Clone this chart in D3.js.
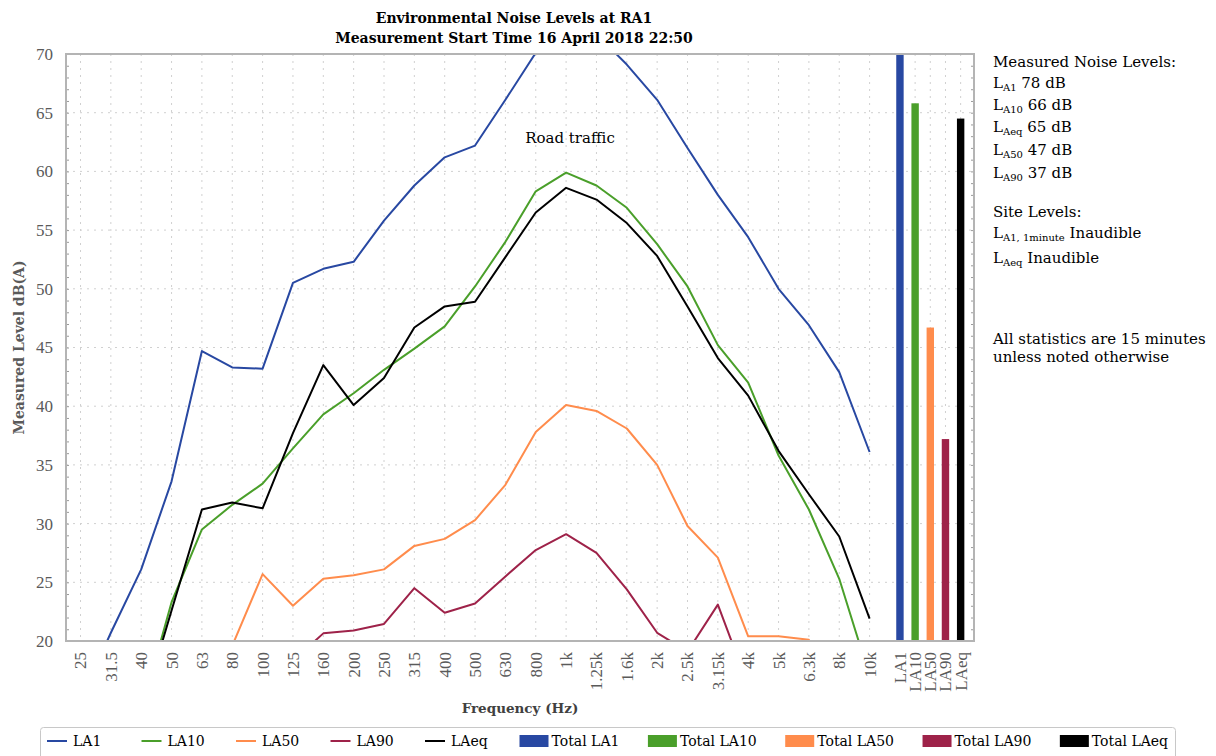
<!DOCTYPE html>
<html>
<head>
<meta charset="utf-8">
<script src="https://cdn.jsdelivr.net/npm/d3@7"></script>
<style>
  body { margin: 0; background: #fff; }
  svg { font-family: "DejaVu Serif", serif; }
  .num { font-family: "Liberation Serif", serif; }
</style>
</head>
<body>
<svg id="chart"></svg>
<script>
const WIDTH = 1216
const HEIGHT = 756

// third-octave bands
const freqLabels = ["25", "31.5", "40", "50", "63", "80", "100", "125", "160", "200", "250", "315", "400",
  "500", "630", "800", "1k", "1.25k", "1.6k", "2k", "2.5k", "3.15k", "4k", "5k", "6.3k", "8k", "10k"]

const LA1 = [15, 20.7, 26.1, 33.6, 44.7, 43.3, 43.2, 50.5, 51.7, 52.3, 55.8, 58.8, 61.2,
  62.2, 66.1, 70.1, 72.3, 71.7, 69.1, 66.1, 62.0, 58.0, 54.4, 50.0, 46.9, 42.9, 36.1]
const LA10 = [8, 11, 14.0, 23.3, 29.5, 31.6, 33.4, 36.4, 39.3, 41.1, 43.1, 44.9, 46.8,
  50.2, 54.0, 58.3, 59.9, 58.8, 56.9, 53.8, 50.2, 45.2, 42.0, 35.8, 31.2, 25.3, 17.0]
const LA50 = [8, 10, 12, 14, 17, 19.6, 25.7, 23.0, 25.3, 25.6, 26.1, 28.1, 28.7,
  30.3, 33.3, 37.8, 40.1, 39.6, 38.1, 35.0, 29.8, 27.1, 20.4, 20.4, 20.1, 14, 9]
const LA90 = [5, 7, 9, 11, 13, 15, 17, 18.3, 20.65, 20.9, 21.45, 24.5, 22.4,
  23.2, 25.5, 27.75, 29.1, 27.5, 24.4, 20.7, 19.1, 23.1, 16.2, 15, 14, 12, 10]
const LAeq = [8, 10, 13.9, 22.6, 31.2, 31.8, 31.3, 37.7, 43.5, 40.1, 42.4, 46.7, 48.5,
  48.9, 52.7, 56.5, 58.6, 57.6, 55.6, 52.8, 48.5, 44.1, 40.9, 36.2, 32.5, 28.9, 21.9]

const seriesNames = ["LA1", "LA10", "LA50", "LA90", "LAeq"]
const seriesColors = ["#2848a2", "#4a9f2a", "#ff8c4c", "#9e2249", "#000000"]

const totalLabels = ["LA1", "LA10", "LA50", "LA90", "LAeq"]
const totalValues = [78, 65.8, 46.7, 37.2, 64.5]

const yTicks = [20, 25, 30, 35, 40, 45, 50, 55, 60, 65, 70]

const margin = { top: 54, left: 66, right: 974, bottom: 641 }

let svg = d3.select("#chart")
  .attr("width", WIDTH)
  .attr("height", HEIGHT)

// bands sit on whole steps, the totals on half steps after them
let pos = i => i < freqLabels.length ? i : freqLabels.length + (i - freqLabels.length) * 0.5
let allLabels = freqLabels.concat(totalLabels)

let x = d3.scaleLinear()
  .domain([-0.478, 29.44])
  .range([margin.left, margin.right])

let y = d3.scaleLinear()
  .domain([20, 70])
  .range([margin.bottom, margin.top])

svg.append("defs").append("clipPath")
  .attr("id", "plot-clip")
  .append("rect")
  .attr("x", margin.left)
  .attr("y", margin.top)
  .attr("width", margin.right - margin.left)
  .attr("height", margin.bottom - margin.top)

// grid
let grid = svg.append("g")
grid.selectAll(".hgrid")
  .data(yTicks.slice(1, -1))
  .enter()
  .append("line")
  .attr("x1", margin.left)
  .attr("x2", margin.right)
  .attr("y1", d => y(d))
  .attr("y2", d => y(d))
  .attr("stroke", "#d0d0d0")
  .attr("stroke-dasharray", "2,5")

grid.selectAll(".vgrid")
  .data(allLabels.map((d, i) => pos(i)))
  .enter()
  .append("line")
  .attr("x1", d => x(d))
  .attr("x2", d => x(d))
  .attr("y1", margin.top)
  .attr("y2", margin.bottom)
  .attr("stroke", "#d0d0d0")
  .attr("stroke-dasharray", "2,5")

// minor ticks inside the frame, both sides
let minor = d3.range(21, 70)
svg.append("g")
  .attr("transform", `translate(${margin.left},0)`)
  .call(d3.axisRight(y).tickValues(minor).tickSize(3).tickFormat(""))
  .call(g => g.select(".domain").remove())
  .selectAll("line").attr("stroke", "#9a9a9a")
svg.append("g")
  .attr("transform", `translate(${margin.right},0)`)
  .call(d3.axisLeft(y).tickValues(minor).tickSize(3).tickFormat(""))
  .call(g => g.select(".domain").remove())
  .selectAll("line").attr("stroke", "#9a9a9a")

// y labels
let yAxis = svg.append("g")
  .attr("transform", `translate(${margin.left},0)`)
  .call(d3.axisLeft(y).tickValues(yTicks).tickSize(0).tickPadding(13))
yAxis.attr("font-family", null).attr("font-size", null)
yAxis.select(".domain").remove()
yAxis.selectAll("text")
  .attr("class", "num")
  .style("font-size", "17px")
  .attr("fill", "#5a5a5a")

// x labels, rotated
svg.append("g")
  .selectAll("text")
  .data(allLabels)
  .enter()
  .append("text")
  .attr("class", "num")
  .attr("transform", (d, i) => `translate(${x(pos(i))}, 652) rotate(-90)`)
  .attr("text-anchor", "end")
  .attr("dy", "0.35em")
  .style("font-size", "17px")
  .attr("fill", "#5a5a5a")
  .text(d => d)

// total bars
svg.append("g")
  .attr("clip-path", "url(#plot-clip)")
  .selectAll("rect")
  .data(totalValues)
  .enter()
  .append("rect")
  .attr("x", (d, i) => x(pos(freqLabels.length + i)) - 3.7)
  .attr("width", 7.4)
  .attr("y", d => y(d))
  .attr("height", d => y(20) - y(d))
  .attr("fill", (d, i) => seriesColors[i])

// spectra lines
let line = d3.line()
  .x((d, i) => x(i))
  .y(d => y(d))

let seriesData = [LA1, LA10, LA50, LA90, LAeq]
svg.append("g")
  .attr("clip-path", "url(#plot-clip)")
  .selectAll("path")
  .data(seriesData)
  .enter()
  .append("path")
  .attr("d", d => line(d))
  .attr("fill", "none")
  .attr("stroke", (d, i) => seriesColors[i])
  .attr("stroke-width", 2)
  .attr("stroke-linejoin", "round")

// frame
svg.append("rect")
  .attr("x", margin.left)
  .attr("y", margin.top)
  .attr("width", margin.right - margin.left)
  .attr("height", margin.bottom - margin.top)
  .attr("fill", "none")
  .attr("stroke", "#b4b4b4")
  .attr("stroke-width", 2)

svg.append("text")
  .attr("x", 570)
  .attr("y", y(62.4))
  .attr("text-anchor", "middle")
  .style("font-size", "15px")
  .text("Road traffic")

// titles
let title = svg.append("text")
  .attr("text-anchor", "middle")
  .style("font-size", "14px")
  .style("font-weight", "bold")
title.append("tspan").attr("x", 514).attr("y", 23).text("Environmental Noise Levels at RA1")
title.append("tspan").attr("x", 514).attr("y", 43).text("Measurement Start Time 16 April 2018 22:50")

svg.append("text")
  .attr("x", (margin.left + margin.right) / 2)
  .attr("y", 713)
  .attr("text-anchor", "middle")
  .style("font-size", "13.5px")
  .style("font-weight", "bold")
  .attr("fill", "#404040")
  .text("Frequency (Hz)")

svg.append("text")
  .attr("transform", `translate(24, ${(margin.top + margin.bottom) / 2}) rotate(-90)`)
  .attr("text-anchor", "middle")
  .style("font-size", "14px")
  .style("font-weight", "bold")
  .attr("fill", "#5a5a5a")
  .text("Measured Level dB(A)")

// side notes
let notes = [
  { main: "Measured Noise Levels:", y: 67 },
  { main: "L", sub: "A1", rest: " 78 dB", y: 88 },
  { main: "L", sub: "A10", rest: " 66 dB", y: 110 },
  { main: "L", sub: "Aeq", rest: " 65 dB", y: 132 },
  { main: "L", sub: "A50", rest: " 47 dB", y: 155 },
  { main: "L", sub: "A90", rest: " 37 dB", y: 178 },
  { main: "Site Levels:", y: 217 },
  { main: "L", sub: "A1, 1minute", rest: " Inaudible", y: 238 },
  { main: "L", sub: "Aeq", rest: " Inaudible", y: 263 },
  { main: "All statistics are 15 minutes", y: 344 },
  { main: "unless noted otherwise", y: 362 }
]
let noteG = svg.append("g").style("font-size", "15px")
notes.forEach(n => {
  let t = noteG.append("text").attr("x", 993).attr("y", n.y)
  t.append("tspan").text(n.main)
  if (n.sub) {
    t.append("tspan").attr("dy", 3).style("font-size", "10px").text(n.sub)
    t.append("tspan").attr("dy", -3).text(n.rest)
  }
})

// legend
let legend = svg.append("g")
legend.append("rect")
  .attr("x", 40.5)
  .attr("y", 727.5)
  .attr("width", 1135)
  .attr("height", 40)
  .attr("rx", 3)
  .attr("fill", "#fff")
  .attr("stroke", "#c8c8c8")

let legendItems = seriesNames.map((d, i) => ({ name: d, color: seriesColors[i], kind: "line" }))
  .concat(totalLabels.map((d, i) => ({ name: "Total " + d, color: seriesColors[i], kind: "bar" })))

let legendX = 47
legendItems.forEach(item => {
  let g = legend.append("g").attr("transform", `translate(${legendX}, 741)`)
  let sw = item.kind === "line" ? 20 : 29
  if (item.kind === "line") {
    g.append("line").attr("x1", 0).attr("x2", sw).attr("stroke", item.color).attr("stroke-width", 2)
  } else {
    g.append("rect").attr("x", 0).attr("y", -6).attr("width", sw).attr("height", 12).attr("fill", item.color)
  }
  let t = g.append("text")
    .attr("x", sw + (item.kind === "line" ? 6 : 3))
    .attr("dy", "0.35em")
    .style("font-size", "14px")
    .text(item.name)
  // line entries take a fixed slot, bar entries flow after their text
  legendX += item.kind === "line" ? 94.5 : sw + 3 + t.node().getComputedTextLength() + 28.5
})
</script>
</body>
</html>
